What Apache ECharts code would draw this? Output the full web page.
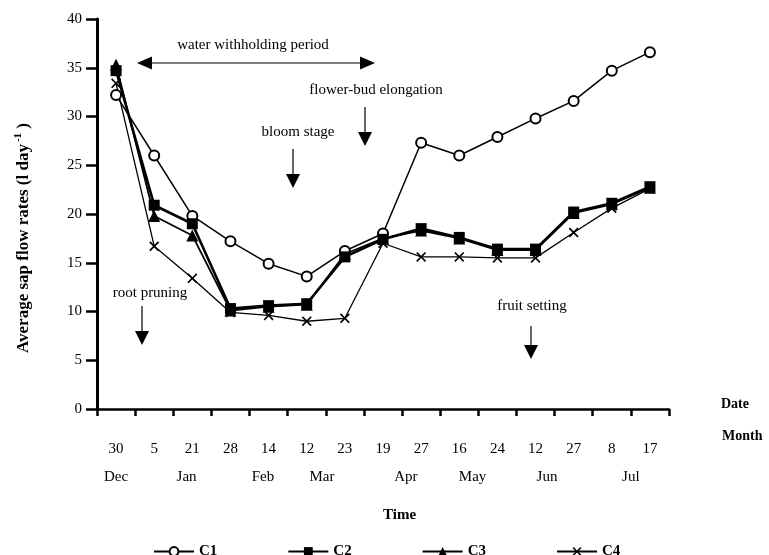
<!DOCTYPE html>
<html><head><meta charset="utf-8">
<script src="https://cdn.jsdelivr.net/npm/echarts@6/dist/echarts.min.js"></script>
<style>html,body{margin:0;padding:0;background:#fff}#c{width:769px;height:555px}</style>
</head><body><div id="c"></div>
<script>
const dates = ['30','5','21','28','14','12','23','19','27','16','24','12','27','8','17'];
const months = ['Dec','Jan','Feb','Mar','Apr','May','Jun','Jul'];
const monthPos = [0, 1.85, 3.85, 5.4, 7.6, 9.35, 11.3, 13.5];
const yTicks = [0,5,10,15,20,25,30,35,40];
const C1 = [32.2, 26.0, 19.8, 17.2, 14.9, 13.6, 16.2, 18.0, 27.3, 26.0, 27.9, 29.8, 31.6, 34.7, 36.6];
const C2 = [34.7, 20.9, 19.0, 10.3, 10.6, 10.8, 15.6, 17.4, 18.5, 17.6, 16.4, 16.4, 20.2, 21.1, 22.8];
const C3 = [35.3, 19.8, 17.8, 10.1, 10.5, 10.7, 15.9, 17.5, 18.3, 17.5, 16.3, 16.3, 20.1, 21.0, 22.7];
const C4 = [33.4, 16.7, 13.4, 9.9, 9.6, 9.0, 9.3, 17.0, 15.6, 15.6, 15.5, 15.5, 18.1, 20.6, 22.6];

const serif = '"Liberation Serif", "Times New Roman", serif';
const xPath = 'path://M0,1.2L1.2,0L5,3.8L8.8,0L10,1.2L6.2,5L10,8.8L8.8,10L5,6.2L1.2,10L0,8.8L3.8,5Z';

const chart = echarts.init(document.getElementById('c'), null, {renderer:'canvas'});

function downArrow(x, top, base, tip){
  return [
    {type:'line', shape:{x1:x,y1:top,x2:x,y2:base}, style:{stroke:'#000', lineWidth:1.2}},
    {type:'polygon', shape:{points:[[x-7,base],[x+7,base],[x,tip]]}, style:{fill:'#000'}}
  ];
}
function label(text, x, y, extra){
  return {type:'text', x:x, y:y, style:Object.assign({text:text, font:'15px ' + serif, fill:'#000', textAlign:'center', textVerticalAlign:'middle'}, extra || {})};
}

const graphics = [].concat(
  [label('water withholding period', 253, 45)],
  [{type:'line', shape:{x1:150,y1:63,x2:362,y2:63}, style:{stroke:'#000', lineWidth:1.2}},
   {type:'polygon', shape:{points:[[152,56.5],[152,69.5],[137,63]]}, style:{fill:'#000'}},
   {type:'polygon', shape:{points:[[360,56.5],[360,69.5],[375,63]]}, style:{fill:'#000'}}],
  [label('flower-bud elongation', 376, 90)],
  downArrow(365, 107, 132, 146),
  [label('bloom stage', 298, 132)],
  downArrow(293, 149, 174, 188),
  [label('root pruning', 150, 293)],
  downArrow(142, 306, 331, 345),
  [label('fruit setting', 532, 306)],
  downArrow(531, 326, 345, 359),
  [label('Date', 721, 404, {textAlign:'left', font:'bold 14px ' + serif}),
   label('Month', 722, 436, {textAlign:'left', font:'bold 14px ' + serif})],
  [{type:'text', x:24, y:238, rotation:Math.PI/2,
    style:{text:'{a|Average sap flow rates (l day}{s|-1}{a| )}', fill:'#000', textAlign:'center', textVerticalAlign:'middle',
      rich:{a:{fontFamily:serif, fontWeight:'bold', fontSize:17, fill:'#000'},
            s:{fontFamily:serif, fontWeight:'bold', fontSize:11, fill:'#000', verticalAlign:'top', padding:[0,0,12,2]}}}}]
);

chart.setOption({
  animation:false,
  backgroundColor:'#fff',
  textStyle:{fontFamily:serif},
  title:{text:'Time', left:378, top:503, textStyle:{fontFamily:serif, fontWeight:'bold', fontSize:15, color:'#000'}},
  legend:{
    left:148, top:539, itemWidth:40, itemHeight:11, itemGap:70,
    textStyle:{fontFamily:serif, fontWeight:'bold', fontSize:15, color:'#000'},
    data:['C1','C2','C3','C4']
  },
  grid:{left:97, right:100, top:19, bottom:146, containLabel:false},
  xAxis:[
    {type:'category', data:dates, boundaryGap:true,
     axisLine:{lineStyle:{color:'#000', width:2.5}},
     axisTick:{show:true, length:7, lineStyle:{color:'#000', width:2.5}, alignWithLabel:false},
     axisLabel:{interval:0, margin:33, color:'#000', fontFamily:serif, fontSize:15}},
    {type:'value', position:'bottom', min:-0.5, max:14.5,
     axisLine:{show:false}, axisTick:{show:false}, splitLine:{show:false},
     axisLabel:{customValues:monthPos, margin:61, color:'#000', fontFamily:serif, fontSize:15,
       formatter:function(v){ const k = monthPos.indexOf(v); return k >= 0 ? months[k] : ''; }}}
  ],
  yAxis:{type:'value', min:0, max:40, interval:5,
    axisLine:{show:true, onZero:false, lineStyle:{color:'#000', width:3}},
    axisTick:{show:true, length:11, lineStyle:{color:'#000', width:2.5}},
    axisLabel:{margin:15, color:'#000', fontFamily:serif, fontSize:15,
      formatter:function(v){ return yTicks.indexOf(v) >= 0 ? String(v) : ''; }},
    splitLine:{show:false}},
  graphic:graphics,
  series:[
    {name:'C1', type:'line', data:C1, symbol:'emptyCircle', symbolSize:10,
     lineStyle:{color:'#000', width:1.5}, itemStyle:{color:'#000', borderWidth:1.5}, z:3},
    {name:'C4', type:'line', data:C4, symbol:xPath, symbolSize:10,
     lineStyle:{color:'#000', width:1.3}, itemStyle:{color:'#000'}, z:2},
    {name:'C3', type:'line', data:C3, symbol:'triangle', symbolSize:12,
     lineStyle:{color:'#000', width:1.8}, itemStyle:{color:'#000'}, z:2},
    {name:'C2', type:'line', data:C2, symbol:'rect', symbolSize:11,
     lineStyle:{color:'#000', width:2.6}, itemStyle:{color:'#000'}, z:4}
  ]
});
</script></body></html>
